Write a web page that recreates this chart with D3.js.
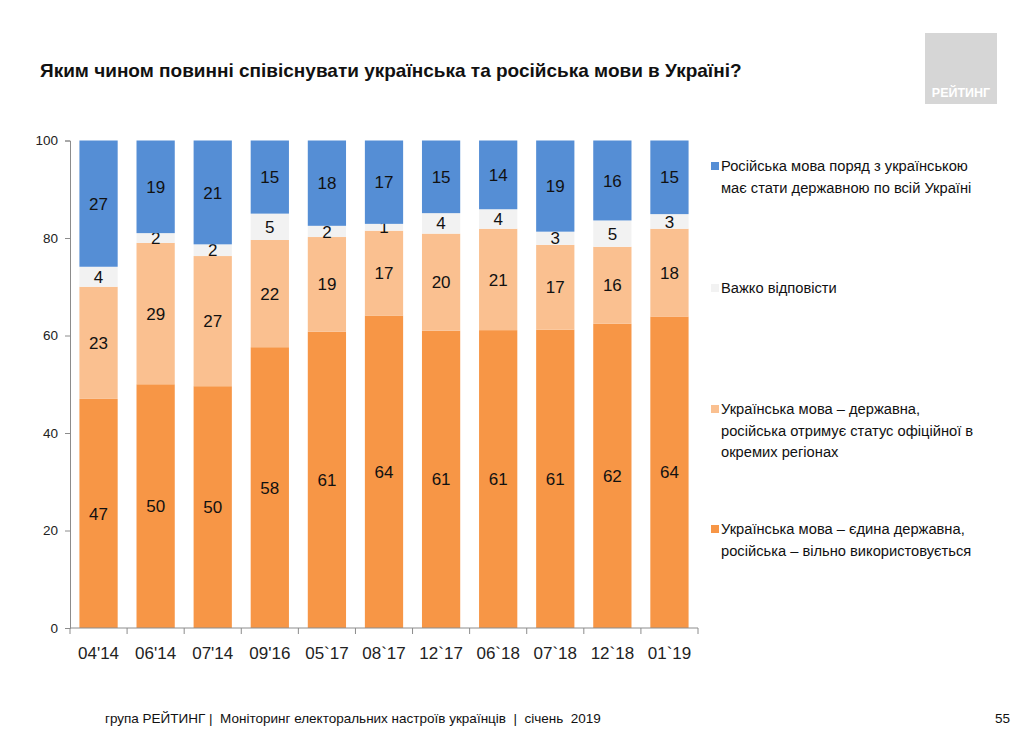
<!DOCTYPE html>
<html>
<head>
  <meta charset="utf-8">
  <title>Співіснування мов</title>
  <script src="https://cdnjs.cloudflare.com/ajax/libs/d3/7.8.5/d3.min.js"></script>
  <style>
    html, body { margin: 0; padding: 0; background: #fff; }
    svg { display: block; font-family: 'Liberation Sans', Arial, sans-serif; }
    .tick text { fill: #222; }
  </style>
</head>
<body>
<script>
  // survey waves
  var waves = ["04'14", "06'14", "07'14", "09'16", "05`17", "08`17", "12`17", "06`18", "07`18", "12`18", "01`19"];

  // shares, % (stacked bottom to top)
  var onlyUkr   = [47.0, 50.0, 49.6, 57.6, 60.8, 64.1, 61.0, 61.1, 61.2, 62.4, 63.9];
  var ukrOffReg = [23.0, 29.0, 26.7, 22.0, 19.4, 17.4, 19.9, 20.8, 17.4, 15.8, 18.0];
  var hardToSay = [4.1, 2.0, 2.4, 5.4, 2.3, 1.4, 4.2, 4.0, 2.7, 5.4, 3.0];
  var rusSecond = [26.9, 19.0, 21.4, 15.0, 17.6, 17.1, 14.9, 14.1, 18.7, 16.4, 15.1];

  var yTicks = [0, 20, 40, 60, 80, 100];

  var series = [
    { key: 'onlyUkr', values: onlyUkr, color: '#f79646',
      legend: ['Українська мова – єдина державна,', 'російська – вільно використовується'] },
    { key: 'ukrOffReg', values: ukrOffReg, color: '#fac090',
      legend: ['Українська мова – державна,', 'російська отримує статус офіційної в', 'окремих регіонах'] },
    { key: 'hardToSay', values: hardToSay, color: '#f2f2f2',
      legend: ['Важко відповісти'] },
    { key: 'rusSecond', values: rusSecond, color: '#558ed5',
      legend: ['Російська мова поряд з українською', 'має стати державною по всій Україні'] }
  ];

  var W = 1024, H = 732,
      m = { top: 140.5, left: 70, right: 326, bottom: 104 },
      w = W - m.left - m.right,
      h = H - m.top - m.bottom;

  var svg = d3.select('body').append('svg')
      .attr('width', W)
      .attr('height', H);

  // title
  svg.append('text')
      .attr('x', 40)
      .attr('y', 77)
      .attr('font-size', 19)
      .attr('font-weight', 700)
      .attr('fill', '#111')
      .text('Яким чином повинні співіснувати українська та російська мови в Україні?');

  // logo block
  svg.append('rect')
      .attr('x', 925).attr('y', 33)
      .attr('width', 72).attr('height', 71)
      .attr('fill', '#d6d6d6');
  svg.append('text')
      .attr('x', 961).attr('y', 97)
      .attr('text-anchor', 'middle')
      .attr('font-size', 12.5)
      .attr('font-weight', 700)
      .attr('fill', '#fff')
      .text('РЕЙТИНГ');

  var rows = waves.map(function (wv, i) {
    var r = { wave: wv };
    series.forEach(function (s) { r[s.key] = s.values[i]; });
    return r;
  });

  var stack = d3.stack().keys(series.map(function (s) { return s.key; }));
  var layers = stack(rows);

  var x = d3.scaleBand()
      .domain(waves)
      .range([0, w])
      .paddingInner(0.33)
      .paddingOuter(0.165);

  var y = d3.scaleLinear()
      .domain([0, 100])
      .range([h, 0])
      .clamp(true);

  var g = svg.append('g')
      .attr('transform', 'translate(' + m.left + ',' + m.top + ')');

  var layer = g.selectAll('g.layer')
      .data(layers)
    .enter().append('g')
      .attr('class', 'layer')
      .attr('fill', function (d, i) { return series[i].color; });

  layer.selectAll('rect')
      .data(function (d) { return d; })
    .enter().append('rect')
      .attr('x', function (d) { return x(d.data.wave); })
      .attr('width', x.bandwidth())
      .attr('y', function (d) { return y(d[1]); })
      .attr('height', function (d) { return y(d[0]) - y(d[1]); });

  layer.selectAll('text')
      .data(function (d) { return d; })
    .enter().append('text')
      .attr('x', function (d) { return x(d.data.wave) + x.bandwidth() / 2; })
      .attr('y', function (d) { return (y(d[0]) + y(d[1])) / 2; })
      .attr('dy', '0.36em')
      .attr('text-anchor', 'middle')
      .attr('font-size', 17)
      .attr('fill', '#111')
      .text(function (d) { return Math.round(d[1] - d[0]); });

  // axes
  var yAxis = g.append('g')
      .call(d3.axisLeft(y).tickValues(yTicks).tickSize(5).tickPadding(7));
  yAxis.selectAll('text').attr('font-size', 13.5).attr('font-family', 'Liberation Sans, Arial, sans-serif');
  yAxis.selectAll('line, path').attr('stroke', '#8c8c8c');

  var xAxis = g.append('g')
      .attr('transform', 'translate(0,' + h + ')')
      .call(d3.axisBottom(x).tickSize(0).tickPadding(19));
  xAxis.selectAll('text').attr('font-size', 17).attr('font-family', 'Liberation Sans, Arial, sans-serif');
  xAxis.select('path').attr('stroke', '#8c8c8c').attr('d', 'M0,0H' + w);

  // category separators below axis
  xAxis.selectAll('line.sep')
      .data(d3.range(waves.length + 1))
    .enter().append('line')
      .attr('class', 'sep')
      .attr('x1', function (i) { return i * w / waves.length; })
      .attr('x2', function (i) { return i * w / waves.length; })
      .attr('y1', 0).attr('y2', 6)
      .attr('stroke', '#8c8c8c');

  // legend
  var legendTop = [171, 293, 414, 534];
  var legendOrder = series.slice().reverse();
  var lg = svg.append('g');
  legendOrder.forEach(function (s, i) {
    var item = lg.append('g').attr('transform', 'translate(711,' + legendTop[i] + ')');
    item.append('rect')
        .attr('x', 0).attr('y', -9)
        .attr('width', 8).attr('height', 8)
        .attr('fill', s.color);
    item.selectAll('text')
        .data(s.legend)
      .enter().append('text')
        .attr('x', 10)
        .attr('y', function (d, j) { return j * 21.5; })
        .attr('font-size', 14.7)
        .attr('fill', '#111')
        .text(function (d) { return d; });
  });

  // footer
  svg.append('text')
      .attr('x', 105).attr('y', 723)
      .attr('font-size', 13.5)
      .attr('font-family', "'Liberation Sans Narrow', 'Liberation Sans', Arial, sans-serif")
      .attr('fill', '#111')
      .attr('xml:space', 'preserve')
      .style('white-space', 'pre')
      .text('група РЕЙТИНГ |  Моніторинг електоральних настроїв українців  |  січень  2019');
  svg.append('text')
      .attr('x', 1010).attr('y', 723)
      .attr('text-anchor', 'end')
      .attr('font-size', 13.5)
      .attr('font-family', "'Liberation Sans Narrow', 'Liberation Sans', Arial, sans-serif")
      .attr('fill', '#111')
      .text('55');
</script>
</body>
</html>
